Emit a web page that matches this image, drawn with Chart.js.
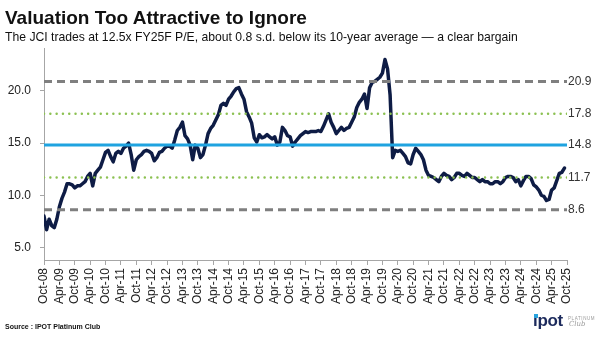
<!DOCTYPE html>
<html>
<head>
<meta charset="utf-8">
<script src="https://cdn.jsdelivr.net/npm/chart.js@4.4.0/dist/chart.umd.min.js"></script>
<style>
  html, body { margin: 0; padding: 0; background: #fff; }
  #wrap {
    position: relative;
    width: 600px;
    height: 337px;
    overflow: hidden;
    font-family: "Liberation Sans", Arial, sans-serif;
    color: #111;
  }
  #peChart { position: absolute; left: 0; top: 0; }
  .title {
    position: absolute; left: 5px; top: 8px;
    font-size: 19px; line-height: 19px; font-weight: bold; white-space: nowrap;
  }
  .subtitle {
    position: absolute; left: 5px; top: 31px;
    font-size: 12.2px; line-height: 13px; white-space: nowrap;
  }
  .source {
    position: absolute; left: 5px; top: 323px;
    font-size: 7px; line-height: 8px; font-weight: bold; white-space: nowrap;
  }
  .logo { position: absolute; left: 533px; top: 311px; width: 67px; height: 24px; }
  .logo .brand {
    position: absolute; left: 0; top: 0;
    font-size: 17px; line-height: 20px; font-weight: bold; color: #1c2a5c; letter-spacing: -0.3px;
  }
  .logo .dot { position: absolute; left: 1px; top: 3px; width: 4px; height: 4px; background: #29a3dd; }
  .logo .tier {
    position: absolute; left: 35px; top: 5px;
    font-size: 4.5px; line-height: 5px; color: #9a9a9a; letter-spacing: 0.6px;
  }
  .logo .club {
    position: absolute; left: 36px; top: 9px;
    font-size: 7px; line-height: 8px; color: #9a9a9a; font-style: italic; font-family: "DejaVu Serif", serif;
  }
</style>
</head>
<body>
<div id="wrap">
  <canvas id="peChart" width="600" height="337"></canvas>
  <div class="title">Valuation Too Attractive to Ignore</div>
  <div class="subtitle">The JCI trades at 12.5x FY25F P/E, about 0.8 s.d. below its 10-year average — a clear bargain</div>
  <div class="source">Source : IPOT Platinum Club</div>
  <div class="logo">
    <span class="brand">ipot</span><span class="dot"></span>
    <span class="tier">PLATINUM</span>
    <span class="club">Club</span>
  </div>
</div>

<script>
// half-year tick labels, one every 6 months starting Oct-08
const tickLabels = [
  "Oct-08", "Apr-09", "Oct-09", "Apr-10", "Oct-10", "Apr-11", "Oct-11", "Apr-12",
  "Oct-12", "Apr-13", "Oct-13", "Apr-14", "Oct-14", "Apr-15", "Oct-15", "Apr-16",
  "Oct-16", "Apr-17", "Oct-17", "Apr-18", "Oct-18", "Apr-19", "Oct-19", "Apr-20",
  "Oct-20", "Apr-21", "Oct-21", "Apr-22", "Oct-22", "Apr-23", "Oct-23", "Apr-24",
  "Oct-24", "Apr-25", "Oct-25"
];

// JCI forward P/E, monthly from Oct-08
const peValues = [
  8.0, 6.7, 7.7, 7.1, 6.9, 7.7, 8.9, 9.7, 10.3, 11.1, 11.1, 11.0,
  10.7, 10.9, 10.9, 11.1, 11.3, 11.8, 12.1, 10.9, 12.1, 12.4, 12.7, 13.4,
  14.1, 14.3, 13.7, 13.2, 14.0, 14.2, 14.0, 14.5, 14.7, 15.0, 13.9, 12.4,
  13.4, 13.7, 13.9, 14.2, 14.3, 14.2, 14.0, 13.3, 13.6, 14.1, 14.2, 14.5,
  14.7, 14.7, 14.5, 15.3, 16.2, 16.5, 17.0, 15.7, 15.4, 14.8, 13.4, 14.8,
  14.5, 13.6, 13.9, 14.8, 15.9, 16.4, 16.7, 17.2, 17.7, 18.6, 18.8, 18.6,
  19.2, 19.5, 19.9, 20.2, 20.3, 19.7, 19.2, 18.0, 17.5, 16.9, 15.5, 15.1,
  15.8, 15.5, 15.6, 15.8, 15.6, 15.4, 15.6, 14.8, 15.1, 16.5, 16.2, 15.7,
  15.6, 14.7, 15.1, 15.4, 15.7, 15.9, 16.1, 16.0, 16.1, 16.1, 16.1, 16.2,
  16.1, 16.6, 17.2, 17.8, 17.0, 16.5, 15.9, 16.2, 16.5, 16.2, 16.4, 16.5,
  17.0, 17.5, 18.4, 18.9, 19.2, 19.7, 18.3, 20.3, 20.8, 20.9, 21.1, 21.3,
  21.7, 23.0, 22.1, 19.6, 13.6, 14.3, 14.2, 14.3, 14.0, 13.7, 13.1, 13.0,
  13.9, 14.5, 14.2, 13.9, 13.4, 12.4, 11.9, 11.8, 11.7, 11.5, 11.3, 11.8,
  12.1, 11.9, 11.8, 11.5, 11.7, 12.1, 12.1, 11.9, 11.8, 12.1, 11.9, 11.7,
  11.7, 11.5, 11.3, 11.5, 11.3, 11.3, 11.1, 11.1, 11.3, 11.3, 11.1, 11.3,
  11.7, 11.8, 11.8, 11.7, 11.3, 11.5, 10.9, 11.4, 11.8, 11.8, 11.6, 11.0,
  10.8, 10.5, 10.0, 9.9, 9.5, 9.6, 10.5, 10.7, 11.4, 12.1, 12.2, 12.6
];

// mean and standard-deviation bands: +2, +1, mean, -1, -2
const bandValues = [20.9, 17.8, 14.8, 11.7, 8.6];

const lastMonth = (tickLabels.length - 1) * 6;

function bandLine(value) {
  return [{ x: 0, y: value }, { x: lastMonth, y: value }];
}

const dashedBand = { borderColor: "#7f7f7f", borderWidth: 3, borderDash: [8, 5] };
const dottedBand = { borderColor: "#8cc152", borderWidth: 2.4, borderDash: [0.1, 6.2], borderCapStyle: "round" };
const meanBand = { borderColor: "#1fa3e0", borderWidth: 3, borderDash: [] };
const bandStyles = [dashedBand, dottedBand, meanBand, dottedBand, dashedBand];

const bandDatasets = bandValues.map((v, i) => Object.assign({
  data: bandLine(v),
  pointRadius: 0,
  order: 0
}, bandStyles[i]));

// value labels to the right of each band line
const bandLabels = {
  id: "bandLabels",
  afterDatasetsDraw(chart) {
    const ctx = chart.ctx;
    const y = chart.scales.y;
    ctx.save();
    ctx.font = "12px 'Liberation Sans', Arial, sans-serif";
    ctx.fillStyle = "#333";
    ctx.textAlign = "left";
    ctx.textBaseline = "middle";
    bandValues.forEach(v => {
      ctx.fillText(v.toFixed(1), chart.chartArea.right + 1, y.getPixelForValue(v));
    });
    ctx.restore();
  }
};

const axisGrey = "#a6a6a6";

new Chart(document.getElementById("peChart"), {
  type: "line",
  data: {
    datasets: [
      {
        data: peValues.map((v, i) => ({ x: i, y: v })),
        borderColor: "#0e1c45",
        borderWidth: 3.5,
        borderJoinStyle: "round",
        borderCapStyle: "round",
        pointRadius: 0,
        tension: 0,
        order: 1
      }
    ].concat(bandDatasets)
  },
  options: {
    responsive: false,
    animation: false,
    events: [],
    layout: { padding: { top: 48, right: 33, left: 0, bottom: 0 } },
    plugins: {
      legend: { display: false },
      tooltip: { enabled: false }
    },
    scales: {
      x: {
        type: "linear",
        min: 0,
        max: lastMonth,
        afterFit(scale) {
          scale.height = 77;
          scale.paddingLeft = 0;
          scale.paddingRight = 0;
        },
        ticks: {
          stepSize: 6,
          autoSkip: false,
          maxRotation: 90,
          minRotation: 90,
          padding: 3,
          color: "#222",
          font: { size: 12, family: "'Liberation Sans', Arial, sans-serif" },
          callback: v => tickLabels[v / 6]
        },
        grid: { drawOnChartArea: false, tickLength: 5, color: axisGrey },
        border: { color: axisGrey, width: 1 }
      },
      y: {
        min: 3.8,
        max: 24.1,
        afterFit(scale) {
          scale.width = 44;
        },
        ticks: {
          stepSize: 5,
          includeBounds: false,
          padding: 9,
          color: "#222",
          font: { size: 12, family: "'Liberation Sans', Arial, sans-serif" },
          callback: v => v.toFixed(1)
        },
        grid: { drawOnChartArea: false, tickLength: 4, color: axisGrey },
        border: { color: axisGrey, width: 1 }
      }
    }
  },
  plugins: [bandLabels]
});
</script>
</body>
</html>
